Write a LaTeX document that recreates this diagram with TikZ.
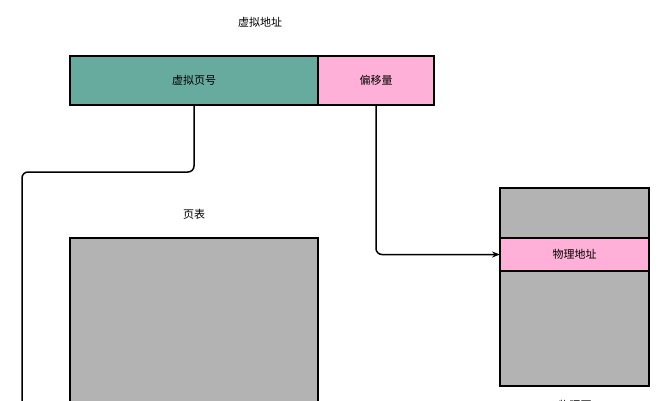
\documentclass[tikz,border=0pt]{standalone}
\usepackage{fontspec}
\setmainfont{Noto Sans CJK SC}
\usetikzlibrary{arrows.meta}
\definecolor{teal1}{HTML}{67AB9F}
\definecolor{pink1}{HTML}{FFB0D8}
\definecolor{grey1}{HTML}{B3B3B3}
\tikzset{
  box/.style={draw=black, line width=1.5pt, inner sep=0pt, outer sep=0pt, anchor=north west, font=\fontsize{11}{13}\selectfont},
  lbl/.style={font=\fontsize{11}{13}\selectfont, inner sep=0pt},
  conn/.style={line width=1.5pt, rounded corners=6pt}
}
\begin{document}
\begin{tikzpicture}[x=1pt,y=-1pt]
\useasboundingbox (0,0) rectangle (663,400);
\clip (0,0) rectangle (663,400);
\node[lbl] (title) at (260,22) {虚拟地址};
\node[box, fill=teal1, minimum width=248pt, minimum height=49pt] (vpn) at (70,56) {虚拟页号};
\node[box, fill=pink1, minimum width=116pt, minimum height=49pt] (off) at (318,56) {偏移量};
\node[lbl] (ptl) at (194,214) {页表};
\node[box, fill=grey1, minimum width=248pt, minimum height=200pt] (pt) at (70,238) {};
\node[box, fill=grey1, minimum width=149pt, minimum height=198pt] (pp) at (500,188) {};
\node[box, fill=pink1, minimum width=149pt, minimum height=33pt] (pa) at (500,238) {物理地址};
\node[lbl] (ppl) at (575,405) {物理页};
\coordinate (bot) at (22,440);
\draw[conn] (vpn.south) -- ++(0,67) -| (bot);
\draw[conn, -{Stealth[length=8pt,width=6pt]}] (off.south) |- (pa.west);
\end{tikzpicture}
\end{document}
